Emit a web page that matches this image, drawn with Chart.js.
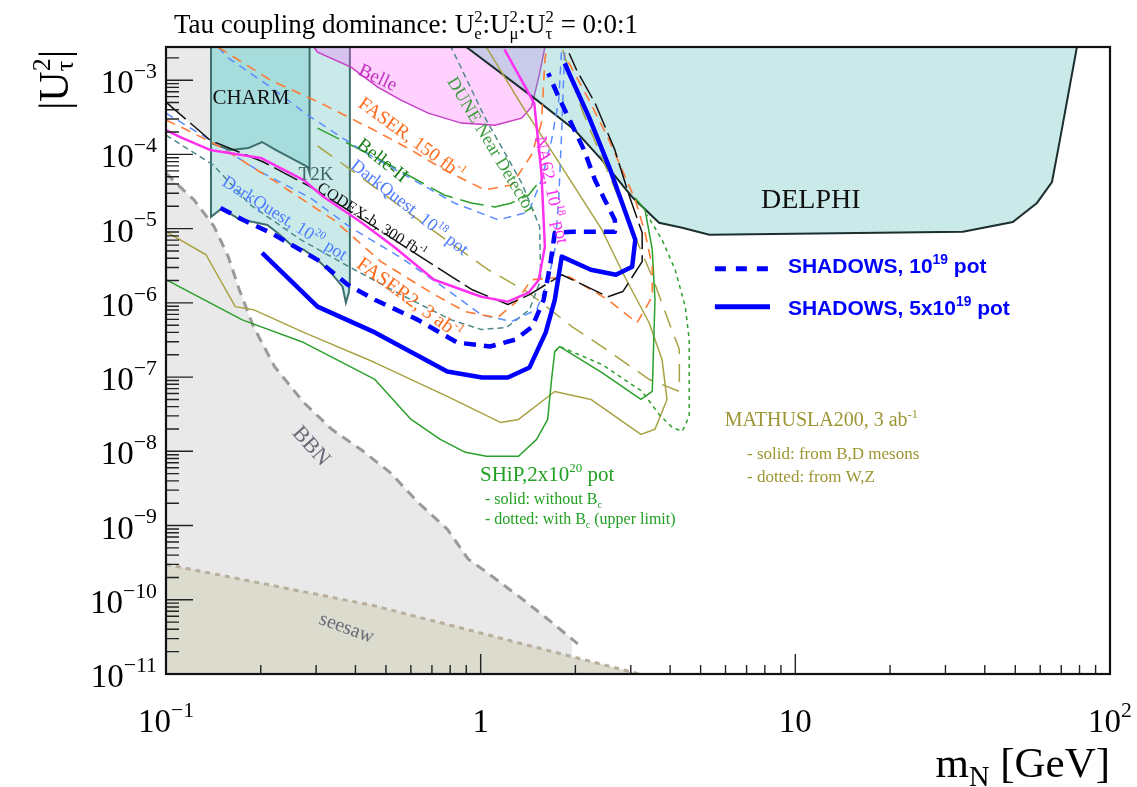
<!DOCTYPE html>
<html>
<head>
<meta charset="utf-8">
<title>Tau coupling dominance</title>
<script src="https://cdn.jsdelivr.net/npm/chart.js@4.4.1/dist/chart.umd.min.js"></script>
<style>
  html, body { margin: 0; padding: 0; background: #fff; }
  #wrap { position: relative; width: 1137px; height: 787px; }
</style>
</head>
<body>
<div id="wrap"><canvas id="chart"></canvas></div>
<script>
// ─── Axis ranges ────────────────────────────────────────────────────────────
const X_MIN = 0.1, X_MAX = 100;
const Y_MIN = 1e-11, Y_MAX = 2.8e-3;
const xTickExp = [-1, 0, 1, 2];
const yTickExp = [-11, -10, -9, -8, -7, -6, -5, -4, -3];

// ─── Excluded regions ───────────────────────────────────────────────────────
const bbnX = [0.1, 0.1108, 0.1228, 0.1423, 0.1577, 0.171, 0.1896, 0.2212, 0.2737, 0.3363, 0.416, 0.515, 0.632, 0.783, 0.913, 1.043, 1.319, 1.633, 2.035];
const bbnY = [5.6e-5, 3.65e-5, 2.44e-5, 1.06e-5, 4.2e-6, 1.5e-6, 4.8e-7, 1.39e-7, 4.56e-8, 1.98e-8, 1.06e-8, 5.2e-9, 2.06e-9, 8.95e-10, 3.53e-10, 2.36e-10, 1.12e-10, 5.5e-11, 2.55e-11];
const bbnEdgeX = [1.95];
const bbnEdgeY = [1e-11];

const cornerX = [0.1, 0.139];
const cornerY = [5.06e-4, 1.56e-4];

const seesawX = [0.1, 0.46, 3.2];
const seesawY = [3.0e-10, 8.3e-11, 1.0e-11];

const t2kX = [0.139, 0.139, 0.151, 0.1624, 0.172, 0.1896, 0.210, 0.226, 0.254, 0.274, 0.303, 0.334, 0.364, 0.373, 0.381, 0.384, 0.384];
const t2kY = [2.8e-3, 1.44e-5, 1.9e-5, 1.53e-5, 1.31e-5, 1.23e-5, 1.12e-5, 8.8e-6, 5.7e-6, 5.2e-6, 3.8e-6, 2.55e-6, 1.65e-6, 1.01e-6, 1.37e-6, 2.05e-6, 2.8e-3];

const charmX = [0.139, 0.139, 0.160, 0.183, 0.202, 0.223, 0.282, 0.286, 0.286];
const charmY = [2.8e-3, 1.42e-4, 1.15e-4, 1.22e-4, 1.47e-4, 1.15e-4, 6.8e-5, 5.6e-5, 2.8e-3];

const belleX = [0.295, 0.303, 0.387, 0.471, 0.558, 0.681, 0.868, 1.11, 1.35, 1.45, 1.54, 1.60];
const belleY = [2.8e-3, 2.38e-3, 1.5e-3, 8.05e-4, 5.38e-4, 3.6e-4, 2.64e-4, 2.48e-4, 3.08e-4, 4.33e-4, 1.24e-3, 2.8e-3];

const delphiX = [0.90, 1.48, 1.99, 2.43, 3.03, 3.69, 4.37, 5.33, 34.1, 49.1, 58.6, 65.4, 69.3, 78.5];
const delphiY = [2.8e-3, 5.73e-4, 2.13e-4, 8.4e-5, 2.67e-5, 1.2e-5, 1.03e-5, 8.3e-6, 9.1e-6, 1.23e-5, 2.22e-5, 4.25e-5, 1.56e-4, 2.8e-3];

// ─── Sensitivity curves ─────────────────────────────────────────────────────
const shadows5X = [0.202, 0.303, 0.461, 0.783, 1.01, 1.22, 1.43, 1.61, 1.72, 1.81, 2.24, 2.69, 3.03, 3.10, 2.56, 2.21, 1.91, 1.85];
const shadows5Y = [4.7e-6, 8.9e-7, 4.0e-7, 1.19e-7, 9.9e-8, 9.9e-8, 1.35e-7, 4.0e-7, 1.1e-6, 4.2e-6, 2.79e-6, 2.39e-6, 3.07e-6, 7.1e-6, 6.8e-5, 3.18e-4, 1.24e-3, 1.69e-3];

const shadows1X = [0.149, 0.176, 0.215, 0.303, 0.378, 0.461, 0.632, 0.843, 1.07, 1.29, 1.46, 1.585, 1.66, 1.72, 1.96, 2.36, 2.67, 2.67, 2.48, 2.31, 2.13, 1.77, 1.64];
const shadows1Y = [1.9e-5, 1.31e-5, 8.8e-6, 3.8e-6, 1.76e-6, 1.1e-6, 5.9e-7, 2.92e-7, 2.58e-7, 3.2e-7, 4.8e-7, 1.1e-6, 3.07e-6, 8.8e-6, 9.1e-6, 9.1e-6, 9.1e-6, 1.31e-5, 2.44e-5, 4.5e-5, 1.15e-4, 5.9e-4, 1.24e-3];

const na62X = [0.1, 0.111, 0.138, 0.200, 0.274, 0.317, 0.416, 0.530, 0.711, 1.005, 1.22, 1.42, 1.53, 1.60, 1.56, 1.48, 1.19];
const na62Y = [2.13e-4, 1.71e-4, 1.15e-4, 8.96e-5, 4.5e-5, 2.67e-5, 1.23e-5, 5.7e-6, 2.05e-6, 1.21e-6, 1.04e-6, 1.37e-6, 2.05e-6, 5.7e-6, 5.6e-5, 4.9e-4, 2.6e-3];

const codexX = [0.1, 0.138, 0.204, 0.288, 0.378, 0.681, 0.941, 1.22, 1.43, 1.81, 2.54, 2.83, 3.26, 3.26, 2.96, 2.67, 2.31, 2.02, 1.91];
const codexY = [5.06e-4, 1.56e-4, 7.9e-5, 3.65e-5, 1.79e-5, 3.6e-6, 1.5e-6, 9.5e-7, 1.29e-6, 2.39e-6, 1.21e-6, 1.42e-6, 3.6e-6, 8.8e-6, 2.84e-5, 1.15e-4, 4.91e-4, 1.36e-3, 2.31e-3];

const faserX = [0.1466, 0.215, 0.310, 0.458, 0.601, 0.766, 1.03, 1.253, 1.45, 1.56, 1.60, 1.62];
const faserY = [2.78e-3, 1e-3, 4.91e-4, 2.13e-4, 1.15e-4, 6.2e-5, 3.33e-5, 3.88e-5, 9.8e-5, 2.64e-4, 1.86e-3, 2.78e-3];

const faser2X = [0.1, 0.1167, 0.149, 0.226, 0.341, 0.482, 0.696, 0.894, 1.13, 1.29, 1.45, 1.91, 2.54, 3.14, 3.51, 3.51, 3.33, 3.10, 2.56, 2.21, 1.85];
const faser2Y = [2.9e-4, 2.13e-4, 1.26e-4, 4.13e-5, 1.31e-5, 3.6e-6, 1.37e-6, 7.6e-7, 6.3e-7, 1.01e-6, 2.05e-6, 2.25e-6, 1.1e-6, 5.4e-7, 1.21e-6, 3.07e-6, 8.8e-6, 2.44e-5, 1.56e-4, 5.38e-4, 2.17e-3];

const dq18X = [0.1466, 0.1566, 0.215, 0.282, 0.416, 0.614, 0.824, 1.14, 1.42, 1.56, 1.68, 1.77, 1.81];
const dq18Y = [2.78e-3, 2.04e-3, 8.05e-4, 3.39e-4, 1.15e-4, 4.5e-5, 2.22e-5, 1.31e-5, 1.68e-5, 4.5e-5, 1.56e-4, 5.38e-4, 2.78e-3];

const dq20X = [0.1, 0.138, 0.200, 0.288, 0.387, 0.558, 0.783, 1.005, 1.253, 1.506, 1.633, 1.72, 1.77, 1.81, 1.85];
const dq20Y = [3.6e-4, 1.56e-4, 5.8e-5, 2.59e-5, 1.03e-5, 4.06e-6, 1.5e-6, 6.9e-7, 5.6e-7, 8.1e-7, 1.87e-6, 5.2e-6, 2.44e-5, 2.13e-4, 2.78e-3];

const belle2X = [0.303, 0.482, 0.766, 0.934, 1.11, 1.253, 1.42, 1.506];
const belle2Y = [2.26e-4, 8.4e-5, 2.84e-5, 2.22e-5, 1.96e-5, 2.22e-5, 2.84e-5, 3.88e-5];

const duneX = [0.1, 0.1413, 0.1854, 0.268, 0.387, 0.558, 0.806, 1.005, 1.208, 1.43, 1.551, 1.54, 1.35, 1.03, 0.806];
const duneY = [1.82e-4, 7.2e-5, 2.09e-5, 7.1e-6, 2.97e-6, 1.29e-6, 5.9e-7, 4.37e-7, 4.65e-7, 8.1e-7, 2.05e-6, 1.06e-5, 4.13e-5, 3.18e-4, 2.78e-3];

const shipX = [0.1, 0.1748, 0.274, 0.461, 0.601, 0.744, 0.894, 1.043, 1.319, 1.506, 1.633, 1.68, 1.72, 1.783, 2.43, 3.23, 3.51, 3.58, 3.51, 3.33, 3.10];
const shipY = [2.05e-6, 5.9e-7, 2.92e-7, 9.3e-8, 2.69e-8, 1.45e-8, 9.7e-9, 8.6e-9, 8.6e-9, 1.45e-8, 2.69e-8, 9.3e-8, 2.21e-7, 2.58e-7, 1.15e-7, 5.0e-8, 6.4e-8, 1.1e-6, 5.2e-6, 1.79e-5, 2.59e-5];

const shipBcX = [1.72, 1.783, 2.43, 3.26, 3.69, 4.06, 4.37, 4.60, 4.60, 4.47, 4.15, 3.77, 3.38];
const shipBcY = [2.21e-7, 2.58e-7, 1.48e-7, 6.4e-8, 3.14e-8, 2.1e-8, 1.86e-8, 2.95e-8, 3.2e-7, 8.9e-7, 2.79e-6, 7.1e-6, 1.53e-5];

const mathSolidX = [0.1, 0.134, 0.166, 0.1896, 0.274, 0.461, 0.783, 1.156, 1.319, 1.72, 2.24, 3.23, 3.58, 3.91, 3.77, 3.43, 2.87, 2.43, 1.81, 1.35, 1.043];
const mathSolidY = [9.1e-6, 4.45e-6, 8.9e-7, 8.1e-7, 4.0e-7, 1.57e-7, 5.5e-8, 2.45e-8, 2.69e-8, 6.4e-8, 5.0e-8, 1.69e-8, 1.98e-8, 5.0e-8, 1.73e-7, 5.4e-7, 2.25e-6, 9.6e-6, 6.8e-5, 4.61e-4, 2.78e-3];

const mathDashX = [0.303, 0.416, 0.647, 1.058, 1.42, 1.948, 2.43, 3.43, 4.28, 4.28, 3.97, 3.51, 3.03, 2.52, 2.10, 1.81];
const mathDashY = [1.3e-4, 4.97e-5, 1.23e-5, 2.79e-6, 1.37e-6, 4.8e-7, 2.58e-7, 9.3e-8, 6.4e-8, 2.35e-7, 5.4e-7, 2.25e-6, 9.6e-6, 6.2e-5, 3.95e-4, 2.78e-3];

// legend samples
const legendX = [5.55, 8.31];
const legendDashY = [2.88e-6, 2.88e-6];
const legendSolidY = [8.9e-7, 8.9e-7];

// ─── Helpers ────────────────────────────────────────────────────────────────
const SERIF = "'Liberation Serif', 'DejaVu Serif', 'Times New Roman', serif";
const SANS = "'Liberation Sans', Arial, 'DejaVu Sans', sans-serif";
const pts = (xs, ys) => xs.map((x, i) => ({ x, y: ys[i] }));

function area(data, target, bg, border, width, order, dash) {
  return { data, fill: target, backgroundColor: bg, borderColor: border || 'rgba(0,0,0,0)',
           borderWidth: width || 0, borderDash: dash || [], pointRadius: 0, tension: 0, order };
}
function curve(data, color, width, dash, order) {
  return { data, fill: false, borderColor: color, borderWidth: width, borderDash: dash || [],
           pointRadius: 0, tension: 0, order, borderCapStyle: 'butt', borderJoinStyle: 'round' };
}

const TEAL = 'rgba(95,190,190,0.33)';
const datasets = [
  area(pts(bbnX.concat(bbnEdgeX), bbnY.concat(bbnEdgeY)), 'start', '#e9e9e9', null, 0, 60),
  area(pts(cornerX, cornerY), 'end', '#e9e9e9', null, 0, 59),
  curve(pts(bbnX, bbnY), '#9a9a9a', 3, [10, 7], 58),
  area(pts(seesawX, seesawY), 'start', '#dbdbce', '#b8ae9c', 3, 57, [5, 5]),
  area(pts(t2kX, t2kY), 'end', TEAL, '#3f7070', 2, 56),
  area(pts(charmX, charmY), 'end', TEAL, '#3f7070', 2, 55),
  area(pts(belleX, belleY), 'end', 'rgba(255,90,255,0.28)', '#c63cc6', 1.5, 54),
  area(pts(delphiX, delphiY), 'end', TEAL, '#1c2e2e', 2, 53),

  curve(pts(mathDashX, mathDashY), '#a9a243', 1.5, [18, 10], 20),
  curve(pts(mathSolidX, mathSolidY), '#a9a243', 1.5, [], 19),
  curve(pts(shipBcX, shipBcY), '#2ca02c', 1.5, [4, 4], 18),
  curve(pts(shipX, shipY), '#2ca02c', 1.5, [], 17),
  curve(pts(duneX, duneY), '#4f8a8a', 1.5, [6, 4], 16),
  curve(pts(belle2X, belle2Y), '#2f9f2f', 1.5, [24, 8], 15),
  curve(pts(dq18X, dq18Y), '#5b8cff', 1.5, [8, 6], 14),
  curve(pts(dq20X, dq20Y), '#5b8cff', 1.5, [8, 6], 13),
  curve(pts(faserX, faserY), '#ff7a33', 1.6, [10, 7], 12),
  curve(pts(faser2X, faser2Y), '#ff7a33', 1.6, [10, 7], 11),
  curve(pts(codexX, codexY), '#111111', 1.5, [26, 6], 10),
  curve(pts(na62X, na62Y), '#ff30f0', 2.5, [], 9),
  curve(pts(shadows1X, shadows1Y), '#0000ff', 4.5, [12, 8], 8),
  curve(pts(shadows5X, shadows5Y), '#0000ff', 4.5, [], 7),
  curve(pts(legendX, legendDashY), '#0000ff', 5, [11, 10], 6),
  curve(pts(legendX, legendSolidY), '#0000ff', 5, [], 5),
];

// rich text: parts [{t, s, dy, stack}] drawn on one baseline
function rich(ctx, parts, x, y, align, fam, weight) {
  const w = weight ? weight + ' ' : '';
  const ws = parts.map(p => { ctx.font = `${w}${p.s}px ${fam}`; return ctx.measureText(p.t).width; });
  let total = 0, held = 0;
  parts.forEach((p, i) => {
    if (p.stack) held = Math.max(held, ws[i]);
    else { total += Math.max(ws[i], held); held = 0; }
  });
  let cx = align === 'center' ? x - total / 2 : align === 'right' ? x - total : x;
  held = 0;
  ctx.textAlign = 'left';
  ctx.textBaseline = 'alphabetic';
  parts.forEach((p, i) => {
    ctx.font = `${w}${p.s}px ${fam}`;
    ctx.fillText(p.t, cx, y + (p.dy || 0));
    if (p.stack) held = Math.max(held, ws[i]);
    else { cx += Math.max(ws[i], held); held = 0; }
  });
}
const SUP = [0.62, -0.42], SUB = [0.62, 0.24];
const mk = (size, list) => list.map(([t, k = 1, d = 0, stack = false]) => ({ t, s: size * k, dy: size * d, stack }));

const notes = [
  { x: 0.1862, y: 5.9e-4, size: 21, color: '#111', parts: [['CHARM']] },
  { x: 0.2996, y: 5.46e-5, size: 19, color: '#3d6666', parts: [['T2K']] },
  { x: 0.472, y: 1.1e-3, size: 19, rot: 25, color: '#c030c0', parts: [['Belle']] },
  { x: 0.605, y: 1.66e-4, size: 19, rot: 36, color: '#ff6a1a', parts: [['FASER, 150 fb'], ['-1', ...SUP]] },
  { x: 0.489, y: 8.4e-5, size: 19, rot: 38, color: '#1b7d1b', parts: [['Belle-II']] },
  { x: 0.596, y: 1.96e-5, size: 18, rot: 38, color: '#4d7cff', parts: [['DarkQuest, 10'], ['18', ...SUP], [' pot']] },
  { x: 0.4515, y: 1.31e-5, size: 16, rot: 33, color: '#111', parts: [['CODEX-b, 300 fb'], ['-1', ...SUP]] },
  { x: 0.2388, y: 1.4e-5, size: 18, rot: 32, color: '#4d7cff', parts: [['DarkQuest, 10'], ['20', ...SUP], [' pot']] },
  { x: 0.596, y: 1.17e-6, size: 20, rot: 36, color: '#ff6a1a', parts: [['FASER2, 3 ab'], ['-1', ...SUP]] },
  { x: 1.086, y: 1.34e-4, size: 18, rot: 59, color: '#3c9b3c', parts: [['DUNE Near Detector']] },
  { x: 1.685, y: 3.33e-5, size: 18, rot: 78, color: '#ff30f0', parts: [['NA62, 10'], ['18', ...SUP], [' pot']] },
  { x: 11.2, y: 2.5e-5, size: 28, color: '#111', parts: [['DELPHI']] },
  { x: 0.291, y: 1.2e-8, size: 22, rot: 48, color: '#6a6a78', parts: [['BBN']] },
  { x: 0.376, y: 4.3e-11, size: 20, rot: 20, color: '#6a6a78', parts: [['seesaw']] },
  { x: 0.995, y: 3.95e-9, size: 21, align: 'left', color: '#22a022', parts: [['SHiP,2x10'], ['20', ...SUP], [' pot']] },
  { x: 1.032, y: 1.94e-9, size: 16, align: 'left', color: '#22a022', parts: [['- solid: without B'], ['c', ...SUB]] },
  { x: 1.032, y: 1.04e-9, size: 16, align: 'left', color: '#22a022', parts: [['- dotted: with B'], ['c', ...SUB], [' (upper limit)']] },
  { x: 5.97, y: 2.17e-8, size: 20, align: 'left', color: '#9c9632', parts: [['MATHUSLA200, 3 ab'], ['-1', ...SUP]] },
  { x: 7.02, y: 7.8e-9, size: 17, align: 'left', color: '#9c9632', parts: [['- solid: from B,D mesons']] },
  { x: 7.02, y: 3.83e-9, size: 17, align: 'left', color: '#9c9632', parts: [['- dotted: from W,Z']] },
  { x: 9.47, y: 2.55e-6, size: 21, align: 'left', color: '#0000ff', family: SANS, weight: 'bold',
    parts: [['SHADOWS, 10'], ['19', 0.66, -0.42], [' pot']] },
  { x: 9.47, y: 6.9e-7, size: 21, align: 'left', color: '#0000ff', family: SANS, weight: 'bold',
    parts: [['SHADOWS, 5x10'], ['19', 0.66, -0.42], [' pot']] },
];

function drawNote(ctx, chart, n) {
  const px = chart.scales.x.getPixelForValue(n.x);
  const py = chart.scales.y.getPixelForValue(n.y);
  ctx.save();
  ctx.translate(px, py);
  ctx.rotate((n.rot || 0) * Math.PI / 180);
  ctx.fillStyle = n.color;
  const left = n.align === 'left';
  rich(ctx, mk(n.size, n.parts), 0, left ? 0 : n.size * 0.33, left ? 'left' : 'center', n.family || SERIF, n.weight);
  ctx.restore();
}

// ─── Frame, ticks, labels ───────────────────────────────────────────────────
const decor = {
  id: 'decor',
  beforeDraw(chart) {
    const { ctx, width, height } = chart;
    ctx.save();
    ctx.fillStyle = '#fff';
    ctx.fillRect(0, 0, width, height);
    ctx.restore();
  },
  afterDatasetsDraw(chart) {
    const { ctx, chartArea: a, scales: { x, y } } = chart;
    ctx.save();

    notes.forEach(n => drawNote(ctx, chart, n));

    // ticks, pointing inward
    ctx.strokeStyle = '#222';
    ctx.lineWidth = 1.4;
    ctx.beginPath();
    for (let e = -1; e < 2; e++) {
      for (let k = 1; k <= 9; k++) {
        const v = k * Math.pow(10, e);
        if (v <= X_MIN * 1.001 || v >= X_MAX * 0.999) continue;
        const px = x.getPixelForValue(v);
        ctx.moveTo(px, a.bottom);
        ctx.lineTo(px, a.bottom - (k === 1 ? 20 : 9));
      }
    }
    for (let e = -11; e <= -3; e++) {
      for (let k = 1; k <= 9; k++) {
        const v = k * Math.pow(10, e);
        if (v <= Y_MIN * 1.001 || v >= Y_MAX) continue;
        const py = y.getPixelForValue(v);
        ctx.moveTo(a.left, py);
        ctx.lineTo(a.left + (k === 1 ? 27 : 13), py);
      }
    }
    ctx.stroke();

    ctx.strokeStyle = '#111';
    ctx.lineWidth = 2.2;
    ctx.strokeRect(a.left, a.top, a.right - a.left, a.bottom - a.top);

    // tick labels
    ctx.fillStyle = '#000';
    yTickExp.forEach(e => {
      const py = y.getPixelForValue(Math.pow(10, e));
      rich(ctx, mk(33, [['10'], ['\u2212' + Math.abs(e), 0.66, -0.46]]), 157, py + 13, 'right', SERIF);
    });
    xTickExp.forEach(e => {
      const px = x.getPixelForValue(Math.pow(10, e));
      const lbl = e === 0 ? [['1']] : e === 1 ? [['10']]
        : [['10'], [(e < 0 ? '\u2212' : '') + Math.abs(e), 0.66, -0.46]];
      rich(ctx, mk(33, lbl), px, a.bottom + 58, 'center', SERIF);
    });

    // axis titles
    rich(ctx, mk(43, [['m'], ['N', 0.66, 0.2], [' [GeV]']]), a.right, 777, 'right', SERIF);
    ctx.save();
    ctx.translate(68, 80);
    ctx.rotate(-Math.PI / 2);
    rich(ctx, mk(42, [['|U'], ['2', 0.62, -0.42, true], ['\u03c4', 0.62, 0.12], ['|']]), 0, 0, 'center', SERIF);
    ctx.restore();

    // title
    rich(ctx, mk(27, [['Tau coupling dominance: U'], ['2', ...SUP, true], ['e', ...SUB],
      [':U'], ['2', ...SUP, true], ['\u03bc', ...SUB],
      [':U'], ['2', ...SUP, true], ['\u03c4', ...SUB], [' = 0:0:1']]), 406, 33, 'center', SERIF);

    ctx.restore();
  }
};

new Chart(document.getElementById('chart'), {
  type: 'line',
  data: { datasets },
  options: {
    responsive: true,
    maintainAspectRatio: false,
    animation: false,
    devicePixelRatio: 1,
    events: [],
    layout: { padding: { left: 166, top: 47, right: 27, bottom: 113 } },
    plugins: { legend: { display: false }, tooltip: { enabled: false } },
    scales: {
      x: { type: 'logarithmic', min: X_MIN, max: X_MAX, display: false },
      y: { type: 'logarithmic', min: Y_MIN, max: Y_MAX, display: false },
    },
  },
  plugins: [decor],
});
</script>
</body>
</html>
